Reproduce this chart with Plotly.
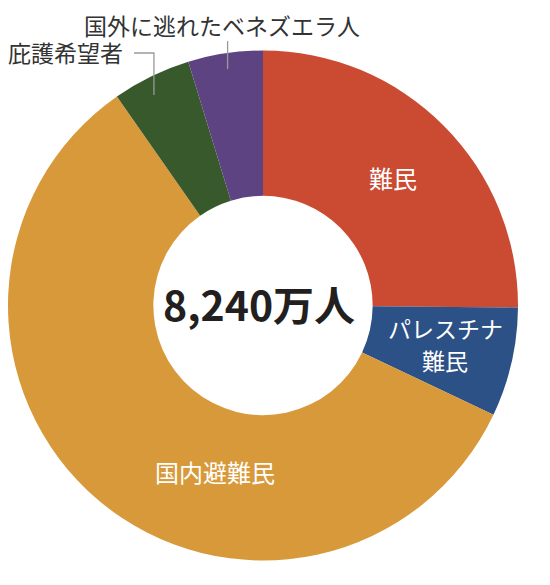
import math
import plotly.graph_objects as go

labels = ["難民", "パレスチナ難民", "国内避難民", "庇護希望者", "国外に逃れたベネズエラ人"]
values = [20.7, 5.7, 48.0, 4.1, 3.9]  # 百万人
colors = ["#CB4A32", "#2C5186", "#D8993A", "#37592C", "#5E4382"]
display_labels = ["難民", "パレスチナ<br>難民", "国内避難民", "庇護希望者", "国外に逃れたベネズエラ人"]
total_text = "8,240万人"

W, H = 550, 585
FONT = "Noto Sans CJK JP"
OFF = 8  # page body margin of the browser (screen px = div px + OFF)

def px(x):
    return (x - OFF) / W

def py(y):
    return 1 - (y - OFF) / H

# pie geometry (screen pixels)
cx, cy, R = 263.0, 305.5, 255.0
hole = 0.43

fig = go.Figure(go.Pie(
    labels=labels,
    values=values,
    marker=dict(colors=colors, line=dict(width=0)),
    hole=hole,
    sort=False,
    direction="clockwise",
    rotation=0,
    textinfo="none",
    hoverinfo="label+value",
    showlegend=False,
    domain=dict(x=[max(0, px(cx - R)), px(cx + R)], y=[py(cy + R), py(cy - R)]),
))

# mid angles of slices (degrees clockwise from 12 o'clock)
tot = sum(values)
mids = []
acc = 0
for v in values:
    mids.append((acc + v / 2) / tot * 360)
    acc += v

def polar(angle, r):
    a = math.radians(angle)
    return cx + r * math.sin(a), cy - r * math.cos(a)

annotations = []
# inside labels: (index, radius, angle offset, font size); multi-line labels
# are laid out one line per annotation with a fixed line pitch
LINE_PITCH = 32
inside = [(0, 183, 0, 24), (1, 186, -1, 23), (2, 172, -24, 24)]
for i, r, off, fs in inside:
    x, y = polar(mids[i] + off, r)
    lines = display_labels[i].split("<br>")
    n = len(lines)
    for k, line in enumerate(lines):
        ly = y + (k - (n - 1) / 2) * LINE_PITCH
        annotations.append(dict(
            x=px(x), y=py(ly), xref="paper", yref="paper",
            text=line, showarrow=False, height=28, borderpad=0,
            font=dict(family=FONT, size=fs, color="white"),
            xanchor="center", yanchor="middle", align="center", valign="middle",
        ))

# outside labels
annotations.append(dict(
    x=px(222), y=py(25), xref="paper", yref="paper",
    text=display_labels[4], showarrow=False, height=26, borderpad=0,
    font=dict(family=FONT, size=23, color="#333333"),
    xanchor="center", yanchor="middle", valign="middle",
))
annotations.append(dict(
    x=px(124), y=py(52), xref="paper", yref="paper",
    text=display_labels[3], showarrow=False, height=26, borderpad=0,
    font=dict(family=FONT, size=23, color="#333333"),
    xanchor="right", yanchor="middle", valign="middle",
))

# center total
annotations.append(dict(
    x=px(cx - 4), y=py(cy - 3), xref="paper", yref="paper",
    text="<b>" + total_text + "</b>", showarrow=False,
    font=dict(family=FONT, size=41, color="#231F20"),
    xanchor="center", yanchor="middle",
))

# leader lines
vx, vy = polar(mids[4], 239)
ax, ay = polar(mids[3] - 1.4, 237)
line_style = dict(color="#9A9A9A", width=1.3)
shapes = [
    dict(type="line", xref="paper", yref="paper",
         x0=px(vx), y0=py(41), x1=px(vx), y1=py(vy), line=line_style),
    dict(type="path", xref="paper", yref="paper",
         path=f"M {px(134)},{py(53)} L {px(ax)},{py(53)} L {px(ax)},{py(ay)}",
         line=line_style),
]

fig.update_layout(
    width=W, height=H,
    margin=dict(l=0, r=0, t=0, b=0),
    paper_bgcolor="white",
    plot_bgcolor="white",
    font=dict(family=FONT),
    annotations=annotations,
    shapes=shapes,
)

fig.write_html("out.html")
